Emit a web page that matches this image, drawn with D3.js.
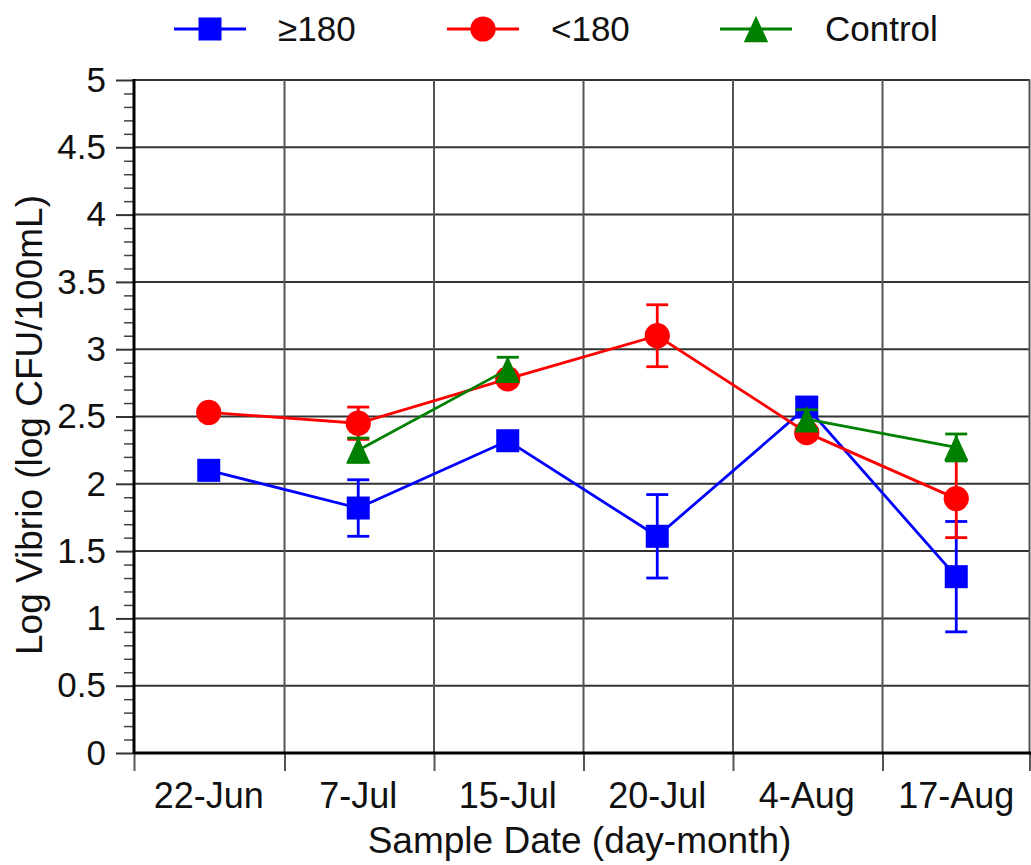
<!DOCTYPE html>
<html>
<head>
<meta charset="utf-8">
<script src="https://cdn.jsdelivr.net/npm/d3@7"></script>
<style>
  body { margin: 0; background: #fff; }
  text { font-family: "Liberation Sans", Arial, Helvetica, sans-serif; fill: #111; }
</style>
</head>
<body>
<svg id="chart" width="1031" height="865"></svg>
<script>
// Sample dates (categories)
const dates = ["22-Jun", "7-Jul", "15-Jul", "20-Jul", "4-Aug", "17-Aug"];

// Series means and error half-widths (log CFU/100mL); null = not sampled
const highMean    = [2.10, 1.82, 2.32, 1.61, 2.57, 1.31];
const highErr     = [0, 0.21, 0, 0.31, 0, 0.41];
const lowMean     = [2.53, 2.45, 2.78, 3.10, 2.38, 1.89];
const lowErr      = [0, 0.12, 0, 0.23, 0, 0.29];
const controlMean = [null, 2.25, 2.85, null, 2.48, 2.27];
const controlErr  = [null, 0.09, 0.09, null, 0.07, 0.10];

const seriesNames = ["\u2265180", "<180", "Control"];
const yTicks = [0, 0.5, 1, 1.5, 2, 2.5, 3, 3.5, 4, 4.5, 5];
const yMinorTicks = d3.range(0, 50).map(i => i / 10).filter(v => Math.round(v * 10) % 5 !== 0);

const svg = d3.select("#chart");
const plotL = 134, plotR = 1031, plotT = 80, plotB = 753;

const x = d3.scaleBand().domain(dates).range([plotL, plotR]).padding(0);
const xEdge = d3.scaleLinear().domain([0, dates.length]).range([plotL, plotR]);
const y = d3.scaleLinear().domain([0, 5]).range([plotB, plotT]);
const cx = d => x(d) + x.bandwidth() / 2;

// Upward triangle marker, slightly taller than wide, centred on its box
const tallTriangle = {
  draw(ctx, size) {
    const w = Math.sqrt(size) * 0.66, h = Math.sqrt(size) * 0.72;
    ctx.moveTo(0, -h);
    ctx.lineTo(w, h);
    ctx.lineTo(-w, h);
    ctx.closePath();
  }
};

// Horizontal grid
svg.append("g").selectAll("line").data(yTicks).join("line")
  .attr("x1", plotL).attr("x2", plotR - 1)
  .attr("y1", d => y(d)).attr("y2", d => y(d))
  .attr("stroke", "#333").attr("stroke-width", 2);

// Vertical grid at category boundaries
svg.append("g").selectAll("line").data(d3.range(1, dates.length + 1)).join("line")
  .attr("x1", d => Math.min(xEdge(d) + 1, plotR - 1.5)).attr("x2", d => Math.min(xEdge(d) + 1, plotR - 1.5))
  .attr("y1", plotT).attr("y2", plotB)
  .attr("stroke", "#555").attr("stroke-width", 2);

// Y axis: major and minor ticks
const yAxis = svg.append("g").attr("transform", `translate(${plotL},0)`)
  .call(d3.axisLeft(y).tickValues(yTicks).tickSize(18).tickSizeOuter(0).tickPadding(10)
    .tickFormat(d3.format("")));
yAxis.select(".domain").remove();
yAxis.selectAll(".tick line").attr("stroke", "#333").attr("stroke-width", 2);
yAxis.selectAll(".tick text").style("font-size", "35px").attr("fill", "#111");

const yMinor = svg.append("g").attr("transform", `translate(${plotL},0)`)
  .call(d3.axisLeft(y).tickValues(yMinorTicks).tickSize(10).tickSizeOuter(0).tickFormat(""));
yMinor.select(".domain").remove();
yMinor.selectAll(".tick line").attr("stroke", "#444").attr("stroke-width", 1.5);

// X axis: boundary ticks and centred labels
const xTickAxis = svg.append("g").attr("transform", `translate(0,${plotB})`)
  .call(d3.axisBottom(xEdge).tickValues(d3.range(0, dates.length + 1)).tickSize(18).tickSizeOuter(0).tickFormat(""));
xTickAxis.select(".domain").remove();
xTickAxis.selectAll(".tick line").attr("stroke", "#555").attr("stroke-width", 2)
  .attr("transform", d => d === dates.length ? "translate(-1.5,0)" : (d > 0 ? "translate(1,0)" : null));

const xAxis = svg.append("g").attr("transform", `translate(0,${plotB})`)
  .call(d3.axisBottom(x).tickSize(0).tickPadding(29));
xAxis.select(".domain").remove();
xAxis.selectAll(".tick text").style("font-size", "36px").attr("fill", "#111");

// Axis lines
svg.append("line").attr("x1", plotL).attr("x2", plotL).attr("y1", plotT - 1).attr("y2", plotB + 1)
  .attr("stroke", "#000").attr("stroke-width", 3);
svg.append("line").attr("x1", plotL).attr("x2", plotR).attr("y1", plotB).attr("y2", plotB)
  .attr("stroke", "#000").attr("stroke-width", 3);

// Axis titles
svg.append("text").attr("x", (plotL + plotR) / 2 - 3).attr("y", 853)
  .attr("text-anchor", "middle").style("font-size", "37px").text("Sample Date (day-month)");
svg.append("text").attr("transform", "translate(42,425) rotate(-90)")
  .attr("text-anchor", "middle").style("font-size", "37px").text("Log Vibrio (log CFU/100mL)");

// Series
const series = [
  { name: seriesNames[0], mean: highMean, err: highErr, color: "#0000ff", shape: d3.symbolSquare, size: 530 },
  { name: seriesNames[1], mean: lowMean, err: lowErr, color: "#ff0000", shape: d3.symbolCircle, size: 500 },
  { name: seriesNames[2], mean: controlMean, err: controlErr, color: "#008000", shape: tallTriangle, size: 340 }
];

const capHalf = 11;
series.forEach(s => {
  const pts = dates.map((d, i) => ({ d, v: s.mean[i], e: s.err[i] }));
  const g = svg.append("g");

  const line = d3.line().defined(p => p.v != null).x(p => cx(p.d)).y(p => y(p.v));
  g.append("path").datum(pts).attr("d", line)
    .attr("fill", "none").attr("stroke", s.color).attr("stroke-width", 2.8);

  const eb = pts.filter(p => p.v != null && p.e);
  g.selectAll(".ebv").data(eb).join("line")
    .attr("x1", p => cx(p.d)).attr("x2", p => cx(p.d))
    .attr("y1", p => y(p.v - p.e)).attr("y2", p => y(p.v + p.e))
    .attr("stroke", s.color).attr("stroke-width", 2.8);
  [-1, 1].forEach(sign => {
    g.append("g").selectAll("line").data(eb).join("line")
      .attr("x1", p => cx(p.d) - capHalf).attr("x2", p => cx(p.d) + capHalf)
      .attr("y1", p => y(p.v + sign * p.e)).attr("y2", p => y(p.v + sign * p.e))
      .attr("stroke", s.color).attr("stroke-width", 2.8);
  });

  g.selectAll("path.mk").data(pts.filter(p => p.v != null)).join("path")
    .attr("class", "mk")
    .attr("transform", p => `translate(${cx(p.d)},${y(p.v)})`)
    .attr("d", d3.symbol().type(s.shape).size(s.size))
    .attr("fill", s.color);
});

// Legend
const legendX = [174, 447, 720];
series.forEach((s, i) => {
  const g = svg.append("g").attr("transform", `translate(${legendX[i]},29)`);
  g.append("line").attr("x1", 0).attr("x2", 72).attr("y1", 0).attr("y2", 0)
    .attr("stroke", s.color).attr("stroke-width", 2.8);
  g.append("path").attr("transform", "translate(36,0)")
    .attr("d", d3.symbol().type(s.shape).size(s.size)).attr("fill", s.color);
  g.append("text").attr("x", i === 2 ? 105 : 104).attr("y", 0).attr("dy", "0.35em")
    .style("font-size", "35px").text(s.name);
});
</script>
</body>
</html>
